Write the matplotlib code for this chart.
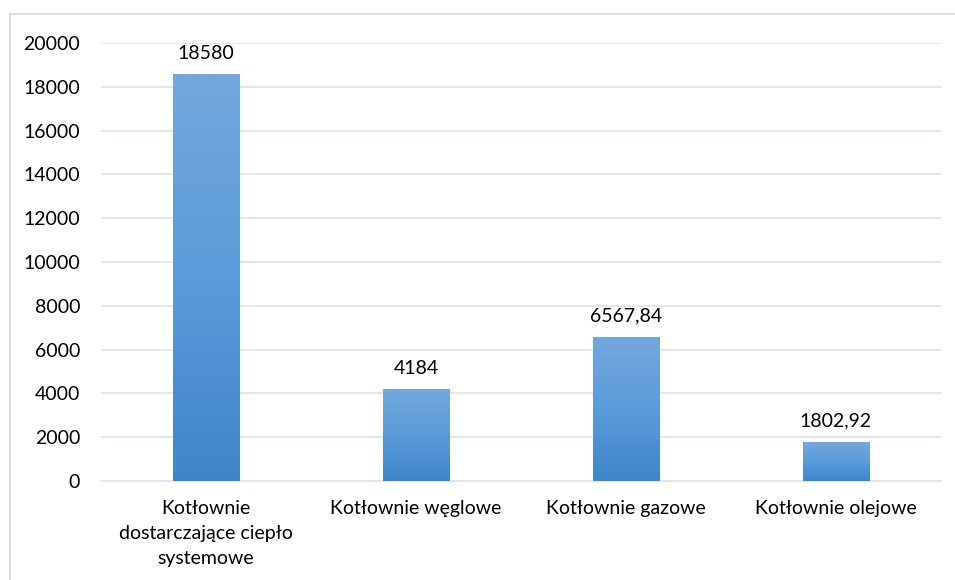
import numpy as np
import matplotlib
matplotlib.use("Agg")
import matplotlib.pyplot as plt
from matplotlib.colors import LinearSegmentedColormap
from matplotlib.patches import Rectangle

plt.rcParams['font.family'] = ['Lato', 'DejaVu Sans']

categories = ["Kotłownie\ndostarczające ciepło\nsystemowe",
              "Kotłownie węglowe",
              "Kotłownie gazowe",
              "Kotłownie olejowe"]
values = [18580, 4184, 6567.84, 1802.92]
value_labels = ["18580", "4184", "6567,84", "1802,92"]
yticks = [0, 2000, 4000, 6000, 8000, 10000, 12000, 14000, 16000, 18000, 20000]

fig = plt.figure(figsize=(9.55, 5.8), dpi=100)
ax = fig.add_axes([101 / 955, 1 - 481 / 580, 840 / 955, 438 / 580])

# Chart frame (left and top edges visible within the canvas)
frame = Rectangle((10 / 955, -0.1), 1.1, 1.1 - 14 / 580, transform=fig.transFigure,
                  fill=False, edgecolor='#D9D9D9', linewidth=1.3, zorder=0)
fig.patches.append(frame)

x = np.arange(len(categories))
width = 0.315
grad = LinearSegmentedColormap.from_list("bar", ["#3E85CA", "#5B9BDA", "#73A8DD"])

bars = ax.bar(x, values, width=width, color='none', edgecolor='none', zorder=3)
gradient = np.linspace(0, 1, 256).reshape(-1, 1)
for bar in bars:
    bx, by = bar.get_x(), bar.get_y()
    bw, bh = bar.get_width(), bar.get_height()
    im = ax.imshow(gradient, cmap=grad, aspect='auto', origin='lower',
                   extent=[bx, bx + bw, by, by + bh], zorder=3)
    im.set_clip_path(bar)

fs = 14
for xi, v, lab in zip(x, values, value_labels):
    ax.annotate(lab, (xi, v), xytext=(0, 9), textcoords='offset points',
                ha='center', va='bottom', fontsize=fs, color='#000000')

ax.set_xlim(-0.5, len(categories) - 0.5)
ax.set_ylim(0, 20000)
ax.set_yticks(yticks)
ax.set_yticklabels([str(t) for t in yticks], fontsize=fs)
ax.set_xticks(x)
ax.set_xticklabels(categories, fontsize=fs, linespacing=1.55)
ax.tick_params(axis='both', length=0, colors='#000000')
ax.tick_params(axis='y', pad=15)
ax.tick_params(axis='x', pad=14)

ax.grid(axis='y', color='#E1E4EA', linewidth=1.3, zorder=0)
ax.set_axisbelow(True)
for s in ['top', 'right', 'left']:
    ax.spines[s].set_visible(False)
ax.spines['bottom'].set_color('#E1E4EA')
ax.spines['bottom'].set_linewidth(1.3)

fig.savefig("out.png", dpi=100)
